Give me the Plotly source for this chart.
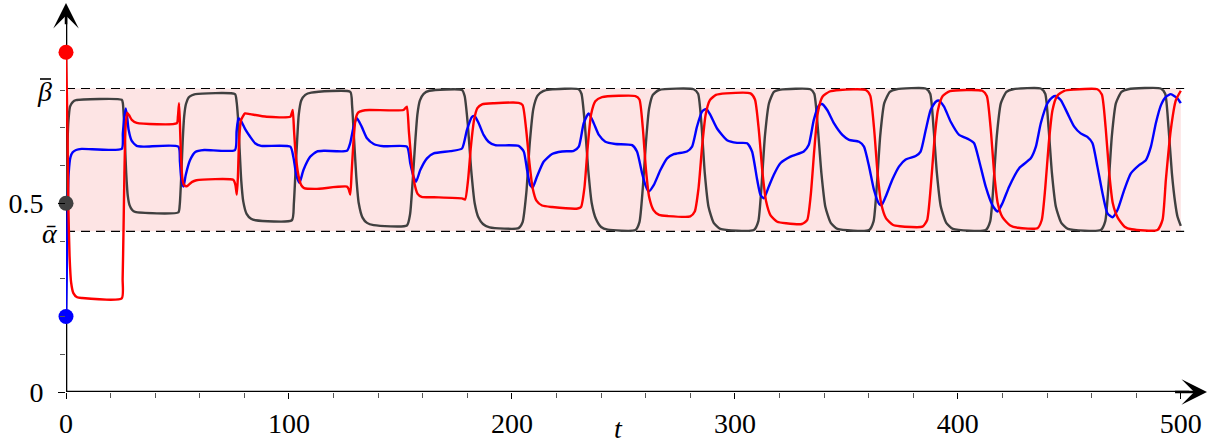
import plotly.graph_objects as go

# ---------------- data ----------------
ALPHA_BAR = 0.4256
BETA_BAR = 0.804
T_END = 500

x_tick_vals = [0, 100, 200, 300, 400, 500]
x_tick_text = ["0", "100", "200", "300", "400", "500"]
x_minor_vals = [20, 40, 60, 80, 120, 140, 160, 180, 220, 240, 260, 280,
                320, 340, 360, 380, 420, 440, 460, 480]
y_tick_vals = [0, 0.5]
y_tick_text = ["0", "0.5"]
y_minor_vals = [0.1, 0.2, 0.3, 0.4, 0.6, 0.7, 0.8]

start_t = [0, 0, 0]
start_v = [0.9, 0.2, 0.5]
start_colors = ["#ff0000", "#0000ff", "#404040"]

gray_t = [0, 0.4, 1, 1.8, 3, 4.5, 25,
          25.5, 26, 26.5, 27, 27.7, 28.5, 29.7, 31, 50.4,
          51, 51.6, 52.3, 53, 53.8, 55, 56.5, 58, 75.8,
          76.5, 77.1, 77.8, 78.6, 79.5, 81, 83, 85, 101.3,
          102.2, 102.9, 103.6, 104.4, 105.5, 107.3, 110, 127.5,
          128.3, 129.2, 130.2, 131.3, 133, 135, 138, 152.9,
          154.3, 155.5, 156.6, 157.6, 158.7, 160.4, 163, 177.6,
          178.8, 180.2, 181.7, 183.3, 185, 187, 190, 203,
          204.8, 206.5, 208, 209.6, 211.5, 214, 217, 229.9,
          231.2, 232.7, 234.2, 235.8, 237.7, 240, 243, 255.4,
          257.2, 258.7, 260.1, 261.5, 263.2, 266, 281.5,
          283.5, 285, 286.5, 288.2, 290.5, 293.5, 308.5,
          310.5, 312, 313.5, 315.3, 317.5, 320.5, 333.9,
          335.6, 337.2, 338.8, 340.6, 343, 346, 360.2,
          362.2, 363.7, 365.2, 367, 369.5, 372.5, 385.6,
          387.6, 389.1, 390.6, 392.4, 394.8, 397.8, 412.5,
          414.5, 416, 417.5, 419.3, 421.8, 424.8, 437.2,
          439.2, 440.7, 442.2, 444, 446.4, 449.4, 464.1,
          466.1, 467.6, 469.1, 470.9, 473.4, 476.4, 491,
          493, 494.5, 496, 497.5, 498.5, 500]
gray_v = [0.5, 0.6, 0.71, 0.756, 0.768, 0.773, 0.774,
          0.765, 0.72, 0.65, 0.58, 0.52, 0.495, 0.482, 0.477, 0.476,
          0.495, 0.56, 0.66, 0.73, 0.763, 0.78, 0.786, 0.789, 0.789,
          0.77, 0.73, 0.65, 0.56, 0.505, 0.472, 0.459, 0.455, 0.455,
          0.5, 0.58, 0.66, 0.735, 0.772, 0.787, 0.793, 0.795,
          0.76, 0.67, 0.57, 0.5, 0.462, 0.448, 0.442, 0.441,
          0.47, 0.56, 0.66, 0.735, 0.772, 0.79, 0.798, 0.8,
          0.784, 0.71, 0.59, 0.5, 0.462, 0.445, 0.436, 0.434,
          0.45, 0.53, 0.66, 0.75, 0.785, 0.797, 0.801, 0.802,
          0.79, 0.71, 0.59, 0.5, 0.458, 0.437, 0.43, 0.429,
          0.45, 0.54, 0.66, 0.75, 0.787, 0.8, 0.802,
          0.79, 0.71, 0.58, 0.49, 0.448, 0.432, 0.429,
          0.452, 0.55, 0.68, 0.765, 0.795, 0.801, 0.802,
          0.79, 0.70, 0.58, 0.49, 0.448, 0.432, 0.429,
          0.452, 0.55, 0.68, 0.765, 0.795, 0.802, 0.804,
          0.79, 0.70, 0.58, 0.49, 0.448, 0.432, 0.429,
          0.452, 0.55, 0.68, 0.765, 0.795, 0.802, 0.804,
          0.79, 0.70, 0.58, 0.49, 0.448, 0.432, 0.429,
          0.452, 0.55, 0.68, 0.765, 0.795, 0.802, 0.804,
          0.79, 0.70, 0.58, 0.50, 0.465, 0.44]

red_t = [0, 0.35, 0.7, 1.1, 1.6, 2.3, 3.3, 5, 7, 25,
         25.4, 25.8, 26.2, 26.7, 27.4, 28.3, 29.5, 31.7, 49.7,
         50.2, 50.7, 51.1, 51.6, 52.2, 53, 54.2, 56.4, 58.5, 75,
         76, 76.6, 77.1, 77.6, 78.5, 80.3, 82.6, 90, 100.6,
         101.2, 101.7, 102.3, 103, 104.3, 105.5, 106.8, 112, 126,
         126.8, 127.5, 128.1, 128.9, 129.8, 131, 133, 136, 151.4,
         152.2, 152.9, 153.8, 154.8, 156.2, 157.7, 159.5, 165, 177.6,
         179, 180.3, 181.6, 183, 184.5, 186.6, 192, 203,
         204.8, 206.3, 207.8, 209.3, 211, 213.5, 218, 229.5,
         231, 232.5, 234, 235.5, 237.4, 240.4, 255.4,
         257.2, 258.7, 260.1, 261.6, 263.5, 266, 270, 280,
         282, 283.7, 285.3, 286.9, 288.8, 291.5, 296, 307,
         309, 310.8, 312.4, 314, 316, 319, 323, 330,
         332.4, 334, 335.6, 337.2, 339.3, 342.5, 347, 358.7,
         360.7, 362.4, 364, 365.6, 367.8, 370.8, 374, 384.1,
         386.2, 387.8, 389.4, 391, 393.2, 396.5, 411,
         413, 414.7, 416.3, 417.9, 420, 423.5, 427, 435.7,
         437.6, 439.2, 440.8, 442.4, 444.5, 447.7, 452, 462.6,
         464.6, 466.3, 467.9, 469.5, 471.7, 474.8, 478, 489.5,
         491.8, 493.3, 495.5, 497.8, 500]
red_v = [0.9, 0.8, 0.67, 0.48, 0.36, 0.29, 0.262, 0.251, 0.249, 0.248,
         0.3, 0.43, 0.58, 0.7, 0.74, 0.733, 0.721, 0.713, 0.712,
         0.73, 0.765, 0.71, 0.62, 0.565, 0.548, 0.545, 0.556, 0.561, 0.562,
         0.548, 0.523, 0.57, 0.66, 0.72, 0.738, 0.736, 0.729, 0.729,
         0.738, 0.747, 0.69, 0.63, 0.572, 0.548, 0.54, 0.538, 0.544,
         0.537, 0.523, 0.58, 0.66, 0.72, 0.74, 0.745, 0.747, 0.747,
         0.752, 0.756, 0.69, 0.62, 0.555, 0.525, 0.517, 0.516, 0.513,
         0.51, 0.56, 0.65, 0.72, 0.752, 0.762, 0.765, 0.766,
         0.76, 0.7, 0.61, 0.54, 0.507, 0.494, 0.49, 0.486,
         0.49, 0.54, 0.65, 0.735, 0.77, 0.781, 0.784,
         0.775, 0.7, 0.59, 0.515, 0.482, 0.469, 0.466, 0.465,
         0.478, 0.54, 0.65, 0.735, 0.773, 0.787, 0.791, 0.791,
         0.775, 0.69, 0.58, 0.505, 0.468, 0.451, 0.447, 0.445,
         0.455, 0.52, 0.64, 0.74, 0.782, 0.796, 0.8, 0.8,
         0.785, 0.7, 0.58, 0.5, 0.46, 0.443, 0.439, 0.438,
         0.455, 0.54, 0.66, 0.745, 0.784, 0.797, 0.798,
         0.784, 0.7, 0.58, 0.5, 0.463, 0.441, 0.435, 0.434,
         0.455, 0.54, 0.66, 0.745, 0.784, 0.798, 0.801, 0.802,
         0.788, 0.7, 0.58, 0.5, 0.462, 0.438, 0.431, 0.429,
         0.456, 0.562, 0.694, 0.773, 0.798]

blue_t = [0, 0.3, 0.7, 1.2, 2, 3, 4.5, 7, 25,
          25.5, 26.1, 26.8, 27.4, 28.1, 29.5, 31.7, 35, 50.4,
          51.1, 51.7, 52.7, 53.7, 55.6, 58, 62, 75.8,
          76.5, 77.3, 78.5, 80.3, 82.6, 84.8, 87.5, 100.6,
          102, 103.3, 104.7, 106.5, 109.5, 112.5, 116, 126,
          127.5, 129, 130.5, 132.6, 135, 138, 142.5, 152.9,
          154.4, 155.9, 157, 158.9, 161.9, 164.9, 172.4, 177.6,
          179.8, 182.1, 183.3, 185.1, 187.3, 189.5, 192.5, 203,
          205.3, 206.8, 208.2, 209.3, 211.2, 214.2, 218, 222.5, 227.7,
          230, 232.2, 234.4, 236.7, 239, 241.9, 246.4, 253.9,
          256.1, 258.4, 259.9, 261.3, 263.6, 266.6, 269.6, 272.6, 278.5,
          280.8, 283, 285.3, 287.2, 289, 292, 296.5, 301, 305.5,
          307.7, 310, 311.5, 313, 315.2, 317.4, 320.4, 324.9, 330.9,
          333.1, 335.4, 337.6, 339.1, 341.4, 344.4, 348.2, 351.2, 355.7,
          357.9, 360.2, 362.4, 364.7, 365.8, 367.6, 370.6, 373.6, 376.6, 381.1,
          383.3, 385.6, 387.8, 390.1, 391.6, 393.8, 396.8, 400.6, 405,
          407.3, 409.5, 412.5, 415.5, 417.8, 420, 423, 427.5, 432.7,
          435, 437.2, 440.2, 442.4, 443.9, 446.2, 449.2, 452.2, 455.1, 458.1,
          460.4, 462.6, 464.9, 467.1, 469.4, 471.6, 474.6, 477.6, 481.3, 484.3,
          486.6, 488.8, 491.1, 493.3, 495.5, 498.5, 500]
blue_v = [0.2, 0.3, 0.48, 0.58, 0.622, 0.635, 0.641, 0.644, 0.644,
          0.685, 0.725, 0.751, 0.73, 0.694, 0.665, 0.652, 0.65, 0.65,
          0.61, 0.565, 0.544, 0.575, 0.614, 0.636, 0.641, 0.641,
          0.69, 0.725, 0.718, 0.697, 0.676, 0.659, 0.652, 0.65,
          0.622, 0.575, 0.554, 0.588, 0.623, 0.637, 0.639, 0.639,
          0.66, 0.703, 0.725, 0.703, 0.672, 0.657, 0.651, 0.65,
          0.606, 0.57, 0.557, 0.588, 0.619, 0.632, 0.638, 0.645,
          0.694, 0.729, 0.731, 0.712, 0.681, 0.663, 0.654, 0.652,
          0.637, 0.588, 0.548, 0.542, 0.57, 0.61, 0.6305, 0.637, 0.639,
          0.65, 0.712, 0.738, 0.712, 0.681, 0.663, 0.657, 0.654,
          0.637, 0.579, 0.548, 0.531, 0.548, 0.588, 0.619, 0.63, 0.637,
          0.65, 0.703, 0.743, 0.75, 0.734, 0.698, 0.667, 0.66, 0.659,
          0.637, 0.562, 0.522, 0.513, 0.544, 0.575, 0.606, 0.6235, 0.637,
          0.654, 0.721, 0.758, 0.763, 0.747, 0.712, 0.681, 0.668, 0.663,
          0.65, 0.597, 0.535, 0.498, 0.495, 0.517, 0.562, 0.597, 0.616, 0.625,
          0.637, 0.694, 0.747, 0.769, 0.772, 0.756, 0.716, 0.681, 0.669,
          0.659, 0.614, 0.544, 0.495, 0.478, 0.5, 0.544, 0.593, 0.619,
          0.65, 0.712, 0.765, 0.781, 0.784, 0.773, 0.738, 0.703, 0.685, 0.676,
          0.659, 0.597, 0.526, 0.473, 0.463, 0.482, 0.535, 0.579, 0.601, 0.614,
          0.65, 0.712, 0.76, 0.782, 0.789, 0.778, 0.765]

# ---------------- layout geometry ----------------
W, H = 1212, 443
L_M, B_M = 66, 51
PX_PER_T = 2.2296
PX_PER_V = 377.5
PLOT_H = H - B_M
x_max = (W - L_M) / PX_PER_T
y_max = PLOT_H / PX_PER_V
x_tip = (1207 - L_M) / PX_PER_T
y_tip = (PLOT_H - 3) / PX_PER_V

FONT = "Liberation Serif"
GRAY = "#404040"

fig = go.Figure()

# axis lines (drawn as traces so that curves and dots sit on top of them)
fig.add_trace(go.Scatter(x=[0, x_tip - 8], y=[0, 0], mode="lines",
                         line=dict(color="black", width=2.6),
                         cliponaxis=False, hoverinfo="skip", showlegend=False))
fig.add_trace(go.Scatter(x=[0, 0], y=[0, y_tip - 0.03], mode="lines",
                         line=dict(color="black", width=2.6),
                         cliponaxis=False, hoverinfo="skip", showlegend=False))

LW = 2.4
SM = 0.55
fig.add_trace(go.Scatter(x=gray_t, y=gray_v, mode="lines",
                         line=dict(color=GRAY, width=LW, shape="spline", smoothing=SM),
                         cliponaxis=False, showlegend=False))
fig.add_trace(go.Scatter(x=blue_t, y=blue_v, mode="lines",
                         line=dict(color="#0000ff", width=LW, shape="spline", smoothing=SM),
                         cliponaxis=False, showlegend=False))
fig.add_trace(go.Scatter(x=red_t, y=red_v, mode="lines",
                         line=dict(color="#ff0000", width=LW, shape="spline", smoothing=SM),
                         cliponaxis=False, showlegend=False))
fig.add_trace(go.Scatter(x=start_t, y=start_v, mode="markers",
                         marker=dict(color=start_colors, size=15, line=dict(width=0)),
                         cliponaxis=False, showlegend=False))

# shaded admissible band and dashed bounds
fig.add_shape(type="rect", xref="x", yref="y", x0=0, x1=T_END,
              y0=ALPHA_BAR, y1=BETA_BAR, fillcolor="#fde4e4",
              line=dict(width=0), layer="below")
for lvl in (ALPHA_BAR, BETA_BAR):
    fig.add_shape(type="line", xref="x", yref="y", x0=0, x1=T_END + 1.5,
                  y0=lvl, y1=lvl, line=dict(color="black", width=1.2, dash="9px,6px"),
                  layer="below")

# macron over the beta label
fig.add_shape(type="line", xref="paper", yref="paper",
              xsizemode="pixel", xanchor=0, x0=-26, x1=-15,
              ysizemode="pixel", yanchor=BETA_BAR / y_max, y0=9.5, y1=9.5,
              line=dict(color="black", width=1.6))

# arrow heads
fig.add_annotation(x=x_tip, y=0, ax=x_tip - 15, ay=0, xref="x", yref="y",
                   axref="x", ayref="y", text="", showarrow=True, arrowhead=3,
                   arrowsize=1.7, arrowwidth=2.5, arrowcolor="black", standoff=0)
fig.add_annotation(x=0, y=y_tip, ax=0, ay=y_tip - 0.06, xref="x", yref="y",
                   axref="x", ayref="y", text="", showarrow=True, arrowhead=3,
                   arrowsize=1.7, arrowwidth=2.5, arrowcolor="black", standoff=0)

# bound labels and axis title
fig.add_annotation(x=0, y=BETA_BAR, xref="x", yref="y", text="<i>β</i>",
                   showarrow=False, xanchor="right", yanchor="middle",
                   xshift=-12, yshift=-3,
                   font=dict(family=FONT, size=28, color="black"))
fig.add_annotation(x=0, y=ALPHA_BAR, xref="x", yref="y", text="<i>\u1fb1</i>",
                   showarrow=False, xanchor="right", yanchor="middle",
                   xshift=-6, yshift=-2,
                   font=dict(family=FONT, size=28, color="black"))
fig.add_annotation(x=248, y=(PLOT_H - 428) / PLOT_H, xref="x", yref="paper",
                   text="<i>t</i>", showarrow=False, xanchor="center", yanchor="middle",
                   height=26, valign="middle", borderpad=0,
                   font=dict(family=FONT, size=28, color="black"))

fig.update_layout(
    width=W, height=H,
    margin=dict(l=L_M, r=0, t=0, b=B_M, pad=0),
    paper_bgcolor="white", plot_bgcolor="rgba(0,0,0,0)",
    showlegend=False,
    xaxis=dict(range=[0, x_max], showgrid=False, zeroline=False, showline=False,
               tickmode="array", tickvals=x_tick_vals, ticktext=x_tick_text,
               ticks="outside", ticklen=6, tickwidth=1.3, tickcolor="black",
               tickfont=dict(family=FONT, size=28, color="black"),
               minor=dict(tickmode="array", tickvals=x_minor_vals, ticks="outside",
                          ticklen=5, tickwidth=1, tickcolor="#555555"),
               automargin=False, fixedrange=True),
    yaxis=dict(range=[0, y_max], showgrid=False, zeroline=False, showline=False,
               tickmode="array", tickvals=y_tick_vals, ticktext=y_tick_text,
               ticks="outside", ticklen=7, tickwidth=1.3, tickcolor="black",
               ticklabelstandoff=9,
               tickfont=dict(family=FONT, size=28, color="black"),
               minor=dict(tickmode="array", tickvals=y_minor_vals, ticks="outside",
                          ticklen=5, tickwidth=1, tickcolor="#555555"),
               automargin=False, fixedrange=True),
)

fig.write_html("out.html", config={"displayModeBar": False},
               post_script="document.body.style.margin='0px';")
